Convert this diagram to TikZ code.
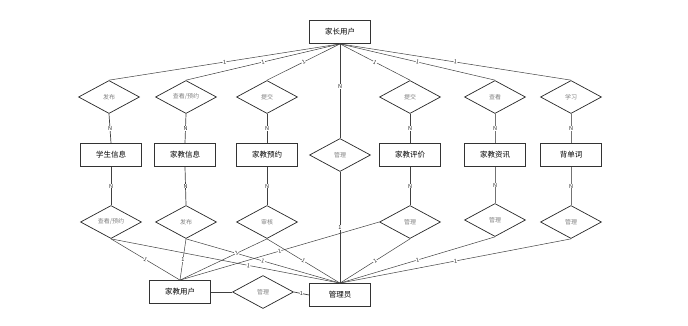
\documentclass[tikz,border=0pt]{standalone}
\usepackage{fontspec}
\setmainfont{Noto Sans CJK SC}
\usetikzlibrary{shapes.geometric}
\begin{document}
\begin{tikzpicture}[x=1pt,y=-1pt,
  ent/.style={draw=black!80,line width=0.8pt,minimum width=61pt,minimum height=23pt,inner sep=0pt,font=\fontsize{7.5}{8}\selectfont},
  rel/.style={draw=black!85,line width=0.7pt,diamond,minimum width=61pt,minimum height=33pt,inner sep=0pt,text=black!50,font=\fontsize{6}{7}\selectfont},
  con/.style={draw=black!75,line width=0.5pt},
  vcon/.style={draw=black!55,line width=0.9pt},
  lab/.style={fill=white,inner sep=0.4pt,font=\fontsize{5.5}{6}\selectfont,text=black!85},
  slab/.style={lab,sloped}]
\useasboundingbox (0,0) rectangle (688,325);
% entities
\node[ent] (par) at (340,32) {家长用户};
\node[ent] (e1) at (111,155) {学生信息};
\node[ent] (e2) at (185,155) {家教信息};
\node[ent] (e3) at (267,155) {家教预约};
\node[ent] (e4) at (410,155) {家教评价};
\node[ent] (e5) at (495,155) {家教资讯};
\node[ent] (e6) at (571,155) {背单词};
\node[ent] (tut) at (180,292) {家教用户};
\node[ent] (adm) at (340,295) {管理员};
% top relations
\node[rel] (r1) at (109,97) {发布};
\node[rel] (r2) at (186,97) {查看/预约};
\node[rel] (r3) at (267,97) {提交};
\node[rel] (r4) at (410,97) {提交};
\node[rel] (r5) at (495,97) {查看};
\node[rel] (r6) at (571,97) {学习};
\node[rel] (rm) at (340,155) {管理};
% bottom relations
\node[rel] (b1) at (111,222) {查看/预约};
\node[rel] (b2) at (186,222) {发布};
\node[rel] (b3) at (267,222) {审核};
\node[rel] (b4) at (410,222) {管理};
\node[rel] (b5) at (495,220) {管理};
\node[rel] (b6) at (571,222) {管理};
\node[rel] (bm) at (263,292) {管理};
% parent to top relations
\foreach \r in {r1,r2,r3,r4,r5,r6}
  \draw[con] (par.south) -- node[slab]{1} (\r.north);
\draw[con] (par.south) -- node[lab,pos=0.45]{N} (rm.north);
\draw[con] (rm.south) -- node[lab,pos=0.5]{1} (adm.north);
% top relations to entities
\foreach \r/\e in {r1/e1,r2/e2,r3/e3,r4/e4}
  \draw[con,line width=0.7pt] (\r.south) -- node[lab]{N} (\e.north);
\foreach \r/\e in {r5/e5,r6/e6}
  \draw[vcon] (\r.south) -- node[lab]{N} (\e.north);
% entities to bottom relations
\foreach \e/\r in {e1/b1,e2/b2,e3/b3,e4/b4}
  \draw[con,line width=0.7pt] (\e.south) -- node[lab]{N} (\r.north);
\foreach \e/\r in {e5/b5,e6/b6}
  \draw[vcon] (\e.south) -- node[lab]{N} (\r.north);
% bottom relations to tutor user and admin
\draw[con] (b1.south) -- node[slab]{1} (tut.north);
\draw[con] (b1.south) -- node[slab,pos=0.6]{1} (adm.north);
\draw[con] (b2.south) -- node[lab]{1} (tut.north);
\draw[con] (b2.south) -- node[slab]{1} (adm.north);
\draw[con] (b3.south) -- node[slab,pos=0.35]{1} (tut.north);
\draw[con] (b3.south) -- node[slab]{1} (adm.north);
\draw[con] (b4.west) -- node[slab]{1} (tut.north);
\draw[con] (b4.south) -- node[slab]{1} (adm.north);
\draw[con] (b5.south) -- node[slab]{1} (adm.north);
\draw[con] (b6.south) -- node[slab]{1} (adm.north);
% bottom management
\draw[con,line width=0.7pt] (tut.east) -- (bm.west);
\draw[con,line width=0.7pt] (bm.east) -- node[lab]{1} (adm.west);
\end{tikzpicture}
\end{document}
